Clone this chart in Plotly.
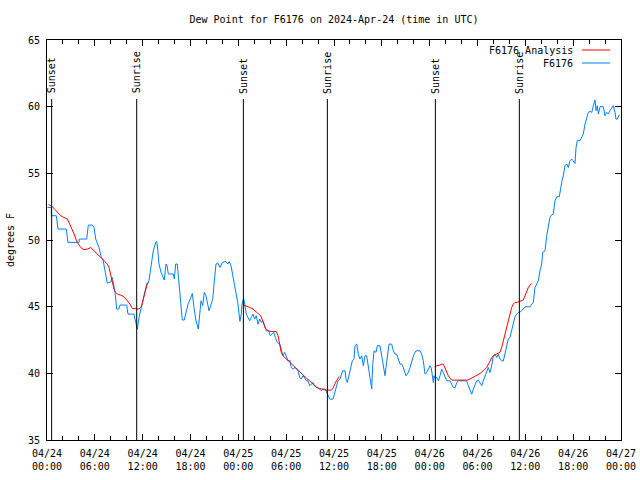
import pandas as pd
import plotly.graph_objects as go

START = "2024-04-24 00:00"
TITLE = "Dew Point for F6176 on 2024-Apr-24 (time in UTC)"

# Observed dew point (F6176): hours after start, degrees F
obs_hours = [
    0.05, 0.54, 0.55, 1.17, 1.38, 2.42, 2.63, 4.01, 4.05, 4.98, 5.18, 5.68, 5.9, 6.11, 6.52, 6.81, 7.0,
    7.44, 7.56, 7.99, 8.19, 8.35, 8.53, 8.74, 9.0, 9.16, 10.0, 10.16, 10.91, 11.13, 11.33, 11.54, 11.88,
    12.2, 12.51, 12.79, 12.92, 13.13, 13.33, 13.64, 13.76, 13.89, 14.05, 14.3, 14.59, 14.71, 14.93, 15.05,
    15.22, 15.84, 15.97, 16.14, 16.34, 16.45, 16.6, 16.77, 16.97, 17.22, 17.44, 17.72, 18.06, 18.23, 18.44,
    18.69, 18.98, 19.1, 19.32, 19.53, 19.73, 19.94, 20.16, 20.32, 20.53, 20.79, 20.99, 21.2, 21.41, 21.7,
    21.99, 22.42, 22.67, 22.85, 23.08, 23.25, 23.49, 23.71, 23.92, 24.2, 24.37, 24.46, 24.67, 24.8, 25.0,
    25.21, 25.42, 25.63, 25.84, 26.05, 26.25, 26.47, 26.68, 26.88, 27.09, 27.31, 27.51, 27.81, 28.01, 28.22,
    28.44, 28.64, 28.89, 29.19, 29.39, 29.6, 29.82, 30.02, 30.23, 30.45, 30.64, 30.86, 31.1, 31.49, 31.7,
    31.9, 32.11, 32.33, 32.53, 32.74, 32.95, 33.15, 33.37, 33.58, 33.99, 34.21, 34.41, 34.6, 34.91, 35.09,
    35.25, 35.46, 35.88, 36.09, 36.29, 36.5, 36.75, 37.09, 37.38, 37.51, 37.67, 37.88, 38.1, 38.3, 38.51,
    38.63, 38.85, 39.05, 39.26, 39.48, 39.68, 39.89, 40.1, 40.3, 40.52, 40.73, 40.85, 41.02, 41.27, 41.43,
    41.77, 41.98, 42.19, 42.4, 42.52, 42.69, 42.9, 43.24, 43.44, 43.65, 43.85, 44.07, 44.28, 44.5, 44.69,
    45.03, 45.32, 45.53, 45.75, 46.04, 46.29, 46.79, 47.0, 47.2, 47.42, 47.63, 47.83, 48.04, 48.2, 48.46,
    48.55, 48.7, 48.89, 49.09, 49.3, 49.51, 49.71, 49.92, 50.14, 50.55, 50.77, 50.97, 51.2, 51.39, 51.6,
    52.65, 52.85, 53.06, 53.28, 53.48, 53.69, 53.9, 54.1, 54.32, 54.53, 54.73, 54.94, 55.15, 55.35, 55.57,
    55.78, 55.98, 56.19, 56.41, 56.6, 56.82, 57.03, 57.25, 57.45, 57.66, 57.86, 58.07, 58.29, 58.49, 58.7,
    58.91, 59.11, 59.33, 59.54, 59.74, 59.96, 60.58, 61.0, 61.21, 61.63, 61.84, 62.05, 62.18, 62.47, 62.68,
    62.88, 63.09, 63.31, 63.51, 63.72, 63.94, 64.26, 64.35, 64.56, 64.76, 64.98, 65.19, 65.39, 65.6, 65.82,
    66.0, 66.23, 66.36, 66.52, 66.86, 67.07, 67.27, 67.49, 67.7, 67.9, 68.11, 68.33, 68.53, 68.74, 68.87,
    69.03, 69.16, 69.37, 69.78, 70.0, 70.21, 70.41, 70.62, 70.83, 71.03, 71.25, 71.37, 71.54, 71.79,
]
obs_values = [
    52.44, 52.44, 51.82, 51.82, 50.82, 50.82, 49.82, 49.82, 50.07, 50.07, 51.12, 51.12, 50.94, 50.07, 49.44, 48.69, 48.6,
    46.94, 46.77, 46.85, 47.19, 46.7, 46.07, 44.82, 44.82, 45.12, 45.12, 44.44, 44.44, 43.81, 43.3, 44.2, 45.1,
    45.94, 46.7, 46.94, 47.45, 48.44, 49.19, 49.82, 49.89, 49.32, 48.2, 47.57, 47.19, 47.0, 48.2, 48.1,
    47.45, 47.45, 47.07, 48.2, 48.2, 47.45, 46.32, 45.32, 44.0, 44.0, 44.57, 45.24, 45.69, 45.99, 44.94,
    43.94, 43.32, 44.19, 45.44, 45.07, 46.07, 45.82, 45.07, 44.69, 45.07, 45.57, 46.94, 48.2, 48.27, 47.94,
    48.32, 48.39, 48.2, 48.39, 48.07, 47.45, 46.7, 46.07, 45.32, 43.9, 44.44, 45.19, 45.64, 45.19, 44.44,
    44.19, 43.94, 44.19, 44.44, 44.07, 44.32, 43.69, 44.07, 43.82, 43.94, 43.57, 43.19, 43.19, 42.82, 42.94,
    43.07, 42.69, 42.32, 42.19, 41.69, 41.32, 41.57, 41.19, 40.94, 41.0, 40.44, 40.32, 40.44, 40.19, 39.69,
    39.57, 39.82, 39.64, 39.44, 39.44, 39.07, 39.19, 39.31, 39.07, 38.94, 38.82, 38.69, 38.82, 38.82, 38.56,
    38.32, 38.07, 38.07, 38.56, 39.07, 39.44, 39.57, 40.19, 40.19, 39.57, 39.31, 39.82, 40.44, 40.94, 41.07,
    42.07, 42.19, 41.44, 41.07, 41.32, 40.57, 41.32, 41.32, 40.44, 39.82, 38.82, 40.57, 41.69, 41.57, 42.07,
    42.07, 41.32, 40.32, 39.82, 40.44, 41.19, 42.19, 42.19, 41.69, 41.44, 41.44, 41.07, 40.69, 40.69, 40.44,
    39.82, 40.06, 40.44, 40.94, 41.44, 41.69, 41.69, 41.44, 40.94, 39.94, 40.06, 40.32, 40.57, 40.4, 39.31,
    39.82, 39.6, 39.69, 39.44, 39.82, 40.32, 40.06, 39.69, 39.44, 39.44, 39.19, 38.94, 38.94, 39.31, 39.44,
    39.44, 39.07, 38.82, 38.44, 38.82, 39.07, 39.44, 39.5, 39.31, 39.07, 39.44, 39.82, 40.19, 40.44, 40.06,
    40.57, 41.32, 41.44, 41.19, 41.44, 41.07, 40.94, 40.94, 41.44, 42.07, 42.57, 42.69, 43.19, 43.69, 44.24,
    44.44, 44.57, 44.57, 44.69, 44.82, 44.99, 44.99, 45.32, 46.44, 46.94, 47.69, 48.2, 49.07, 49.19, 50.32,
    50.94, 51.69, 51.89, 51.94, 52.94, 53.24, 53.24, 53.69, 54.32, 54.82, 55.57, 55.7, 55.44, 55.95, 56.07,
    55.95, 55.74, 56.94, 57.45, 57.45, 57.69, 57.95, 58.7, 59.07, 59.57, 59.64, 59.57, 60.07, 60.5, 59.7,
    60.07, 59.45, 60.0, 60.0, 59.32, 59.57, 59.45, 59.7, 59.94, 60.07, 59.57, 59.07, 59.07, 59.4,
]

# Analysis (three night-time segments)
ana1_hours = [0.2, 0.54, 0.88, 1.29, 1.72, 2.13, 2.55, 2.76, 3.05, 3.39, 3.8, 4.23, 4.64, 5.06, 5.48, 5.9,
              6.31, 6.74, 7.15, 7.56, 7.78, 7.99, 8.19, 8.4, 8.62, 8.82, 9.24, 9.66, 10.07, 10.41, 10.7,
              11.13, 11.54, 11.75, 11.88, 12.08, 12.29, 12.51, 12.71]
ana1_values = [52.65, 52.57, 52.37, 52.07, 51.82, 51.69, 51.57, 51.32, 50.94, 50.45, 49.82, 49.44, 49.27,
               49.32, 49.44, 49.19, 48.95, 48.69, 48.44, 48.2, 47.94, 47.32, 46.82, 46.32, 46.07, 45.95,
               45.87, 45.74, 45.44, 45.19, 44.87, 44.82, 44.82, 44.95, 45.07, 45.57, 46.07, 46.57, 46.82]
ana2_hours = [24.59, 25.0, 25.43, 25.84, 26.25, 26.56, 26.81, 26.97, 27.18, 27.38, 27.72, 28.14, 28.76,
              28.98, 29.19, 29.39, 29.6, 30.02, 30.44, 30.86, 31.27, 31.7, 32.11, 32.53, 32.95, 33.37,
              33.78, 34.21, 34.62, 35.04, 35.66, 35.88, 36.09, 36.29, 36.63]
ana2_values = [45.14, 45.07, 44.94, 44.82, 44.64, 44.44, 44.32, 44.07, 43.69, 43.39, 43.19, 43.14, 43.14,
               42.82, 42.19, 41.57, 41.32, 41.07, 40.81, 40.57, 40.32, 40.06, 39.82, 39.64, 39.44, 39.19,
               38.94, 38.86, 38.79, 38.74, 38.74, 38.89, 39.19, 39.44, 39.76]
ana3_hours = [48.67, 48.88, 49.3, 49.51, 49.71, 49.92, 50.14, 50.34, 50.55, 50.77, 51.06, 52.22, 52.65,
              53.06, 53.48, 53.9, 54.32, 54.73, 55.15, 55.48, 55.78, 56.19, 56.61, 56.82, 57.03, 57.24,
              57.45, 57.66, 57.86, 58.07, 58.29, 58.49, 58.7, 58.99, 59.24, 59.54, 59.74, 59.96, 60.17,
              60.38, 60.58, 60.8]
ana3_values = [40.44, 40.57, 40.62, 40.69, 40.69, 40.39, 40.06, 39.82, 39.64, 39.49, 39.49, 39.49, 39.49,
               39.57, 39.69, 39.82, 39.99, 40.19, 40.44, 40.81, 41.19, 41.39, 41.49, 41.57, 41.94, 42.44,
               42.94, 43.44, 43.94, 44.44, 44.94, 45.19, 45.32, 45.32, 45.37, 45.44, 45.5, 45.82, 46.19,
               46.44, 46.62, 46.74]

sun_labels = ["Sunset", "Sunrise", "Sunset", "Sunrise", "Sunset", "Sunrise"]
sun_times = ["2024-04-24 00:35", "2024-04-24 11:15", "2024-04-25 00:38",
             "2024-04-25 11:10", "2024-04-26 00:43", "2024-04-26 11:15"]

RED = "#ff0000"
BLUE = "#0080ff"
FONT = "DejaVu Sans Mono"

base = pd.Timestamp(START)
def to_time(hours):
    return [base + pd.Timedelta(hours=h) for h in hours]

ana_x = to_time(ana1_hours) + [None] + to_time(ana2_hours) + [None] + to_time(ana3_hours)
ana_y = ana1_values + [None] + ana2_values + [None] + ana3_values

fig = go.Figure()
fig.add_trace(go.Scatter(x=to_time(obs_hours), y=obs_values, mode="lines", name="F6176",
                         line=dict(color=BLUE, width=1), showlegend=False))
fig.add_trace(go.Scatter(x=ana_x, y=ana_y, mode="lines", name="F6176 Analysis",
                         line=dict(color=RED, width=1), connectgaps=False, showlegend=False))

shapes = []
annotations = []
for lab, t in zip(sun_labels, sun_times):
    shapes.append(dict(type="line", xref="x", yref="paper", x0=t, x1=t, y0=0, y1=0.8525,
                       line=dict(color="black", width=1)))
    annotations.append(dict(x=t, xref="x", y=0.861, yref="paper", text=lab, showarrow=False,
                            textangle=-90, xanchor="center", yanchor="bottom",
                            font=dict(family=FONT, size=10, color="black")))

# legend drawn gnuplot-style: text then line sample
for i, (name, col) in enumerate([("F6176 Analysis", RED), ("F6176", BLUE)]):
    yy = 0.975 - i * 0.0325
    annotations.append(dict(x=0.92, xref="paper", y=yy, yref="paper", text=name, showarrow=False,
                            xanchor="right", yanchor="middle",
                            font=dict(family=FONT, size=10, color="black")))
    shapes.append(dict(type="line", xref="paper", yref="paper", x0=0.932, x1=0.981, y0=yy, y1=yy,
                       line=dict(color=col, width=1)))

fig.update_layout(
    width=640, height=480,
    margin=dict(l=47, r=19, t=40, b=40, autoexpand=False),
    paper_bgcolor="white", plot_bgcolor="white",
    font=dict(family=FONT, size=10, color="black"),
    title=dict(text=TITLE, x=0.5, xref="paper", y=1 - 19 / 480, yanchor="middle",
               font=dict(family=FONT, size=10, color="black")),
    shapes=shapes, annotations=annotations,
)
fig.update_xaxes(
    type="date", range=["2024-04-24 00:00", "2024-04-27 00:00"], automargin=False,
    tick0="2024-04-24", dtick=6 * 3600 * 1000, tickformat="%m/%d<br>%H:%M",
    ticks="inside", ticklen=6, tickcolor="black", showline=True, linecolor="black", linewidth=1,
    mirror="ticks", showgrid=False, zeroline=False, ticklabelstandoff=4,
    minor=dict(dtick=2 * 3600 * 1000, ticks="inside", ticklen=4, tickcolor="black", showgrid=False),
)
fig.update_yaxes(
    range=[35, 65], dtick=5, ticks="inside", ticklen=6, tickcolor="black", automargin=False,
    showline=True, linecolor="black", linewidth=1, mirror="ticks", ticklabelstandoff=4,
    showgrid=False, zeroline=False,
    title=dict(text="degrees F", standoff=11, font=dict(family=FONT, size=10)),
)

# remove the page's default body margin so the 640x480 figure fills the window exactly
fig.write_html("out.html", config={"displayModeBar": False},
               post_script="document.body.style.margin='0';document.body.style.overflow='hidden';")
